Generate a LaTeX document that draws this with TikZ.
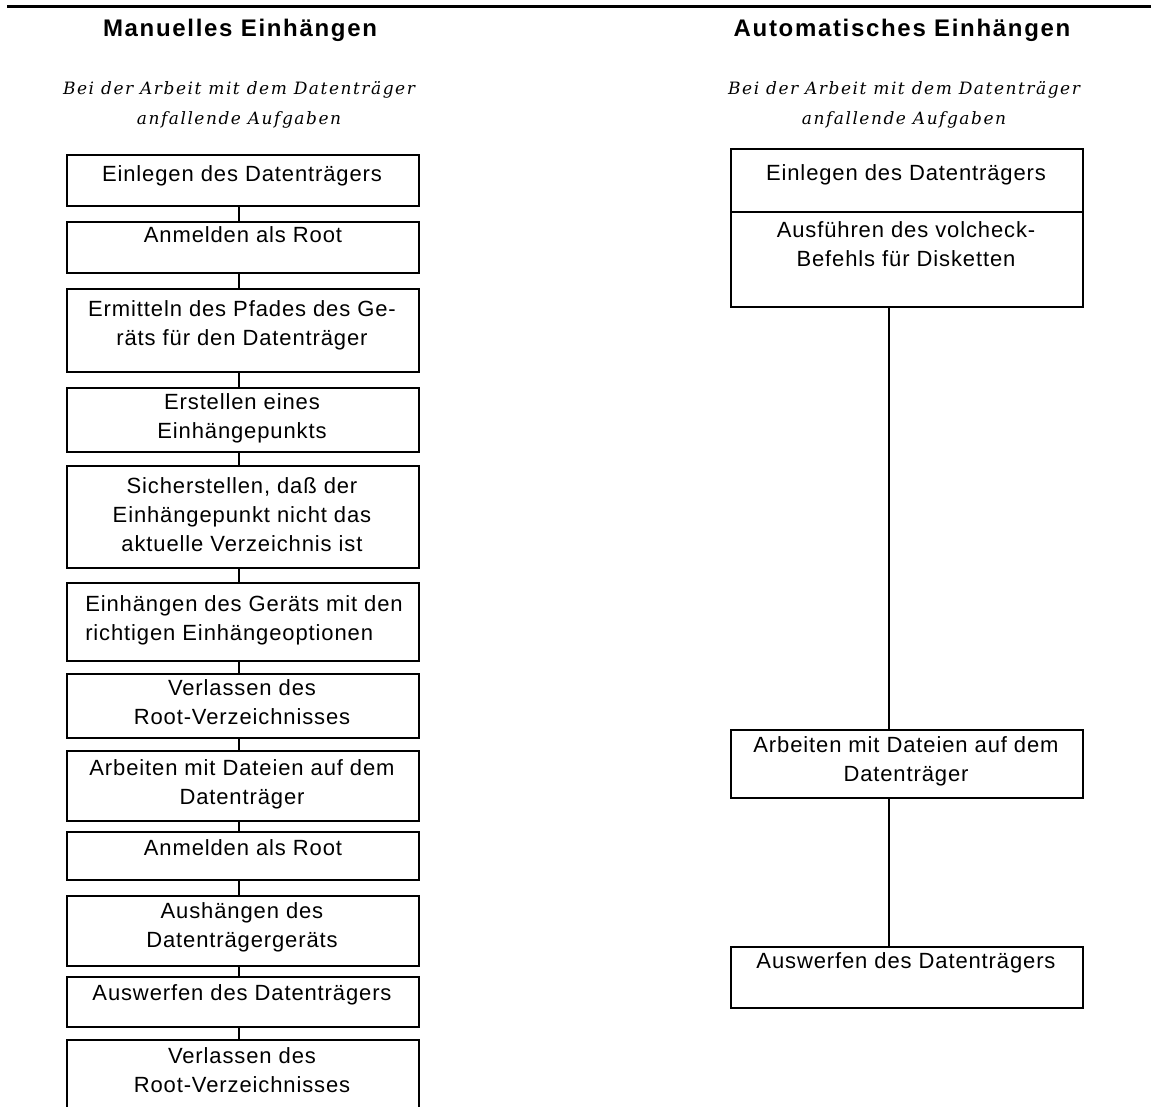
\documentclass[tikz,border=0pt]{standalone}
\usepackage{fontspec}
\setmainfont{Liberation Sans}
\newfontfamily\boxfont[LetterSpace=4]{Liberation Sans}
\newfontfamily\titlefont[LetterSpace=7]{Liberation Sans}
\newfontfamily\subfont[LetterSpace=9]{DejaVu Serif}
\tikzset{
  stepbox/.style={draw, line width=1.8pt, minimum width=352pt, inner sep=0pt, anchor=north west},
  steptext/.style={anchor=north, inner sep=0pt, align=center, font=\boxfont\fontsize{22}{29}\selectfont},
  titletext/.style={anchor=north, inner sep=0pt, font=\titlefont\bfseries\fontsize{24}{28}\selectfont},
  subtext/.style={anchor=north, inner sep=0pt, align=center, font=\subfont\itshape\fontsize{17}{30}\selectfont},
  link/.style={line width=1.8pt},
  rule/.style={line width=2.5pt}
}
\begin{document}
\begin{tikzpicture}[x=1pt,y=-1pt]
\useasboundingbox (0,0) rectangle (1151,1106);
\clip (0,0) rectangle (1151,1106);
% top rule
\coordinate (rA) at (7,6.5);
\coordinate (rB) at (1151,6.5);
\draw[rule] (rA) -- (rB);
% titles
\node[titletext] (tl) at (240,19) {Manuelles Einhängen};
\node[titletext] (tr) at (902,19) {Automatisches Einhängen};
\node[subtext] (ul) at (239,81) {Bei der Arbeit mit dem Datenträger\\anfallende Aufgaben};
\node[subtext] (ur) at (904,81) {Bei der Arbeit mit dem Datenträger\\anfallende Aufgaben};
% left boxes
\node[stepbox, minimum height=51pt] (l1) at (66,154) {};
\node[stepbox, minimum height=51pt] (l2) at (66,221) {};
\node[stepbox, minimum height=83pt] (l3) at (66,288) {};
\node[stepbox, minimum height=64pt] (l4) at (66,387) {};
\node[stepbox, minimum height=102pt] (l5) at (66,465) {};
\node[stepbox, minimum height=78pt] (l6) at (66,582) {};
\node[stepbox, minimum height=64pt] (l7) at (66,673) {};
\node[stepbox, minimum height=70pt] (l8) at (66,750) {};
\node[stepbox, minimum height=48pt] (l9) at (66,831) {};
\node[stepbox, minimum height=70pt] (l10) at (66,895) {};
\node[stepbox, minimum height=50pt] (l11) at (66,976) {};
\node[stepbox, minimum height=90pt] (l12) at (66,1039) {};
% left texts
\node[steptext] (t1) at (242,165) {Einlegen des Datenträgers};
\node[steptext] (t2) at (243,226) {Anmelden als Root};
\node[steptext] (t3) at (242,300) {Ermitteln des Pfades des Ge-\\räts für den Datenträger};
\node[steptext] (t4) at (242,393) {Erstellen eines\\Einhängepunkts};
\node[steptext] (t5) at (242,477) {Sicherstellen, daß der\\Einhängepunkt nicht das\\aktuelle Verzeichnis ist};
\node[steptext, align=left] (t6) at (244,595) {Einhängen des Geräts mit den\\richtigen Einhängeoptionen};
\node[steptext] (t7) at (242,679) {Verlassen des\\Root-Verzeichnisses};
\node[steptext] (t8) at (242,759) {Arbeiten mit Dateien auf dem\\Datenträger};
\node[steptext] (t9) at (243,839) {Anmelden als Root};
\node[steptext] (t10) at (242,902) {Aushängen des\\Datenträgergeräts};
\node[steptext] (t11) at (242,984) {Auswerfen des Datenträgers};
\node[steptext] (t12) at (242,1047) {Verlassen des\\Root-Verzeichnisses};
% left connectors
\foreach \a/\b in {l1/l2,l2/l3,l3/l4,l4/l5,l5/l6,l6/l7,l7/l8,l8/l9,l9/l10,l10/l11,l11/l12}
  \draw[link] ([xshift=-4pt]\a.south) -- ([xshift=-4pt]\b.north);
% right boxes
\node[stepbox, minimum height=63pt] (r1) at (730,148) {};
\node[stepbox, minimum height=95pt] (r2) at (730,211) {};
\node[stepbox, minimum height=68pt] (r3) at (730,729) {};
\node[stepbox, minimum height=61pt] (r4) at (730,946) {};
% right texts
\node[steptext] (s1) at (906,164) {Einlegen des Datenträgers};
\node[steptext] (s2) at (906,221) {Ausführen des volcheck-\\Befehls für Disketten};
\node[steptext] (s3) at (906,736) {Arbeiten mit Dateien auf dem\\Datenträger};
\node[steptext] (s4) at (906,952) {Auswerfen des Datenträgers};
% right connectors
\draw[link] ([xshift=-18pt]r2.south) -- ([xshift=-18pt]r3.north);
\draw[link] ([xshift=-18pt]r3.south) -- ([xshift=-18pt]r4.north);
\end{tikzpicture}
\end{document}
